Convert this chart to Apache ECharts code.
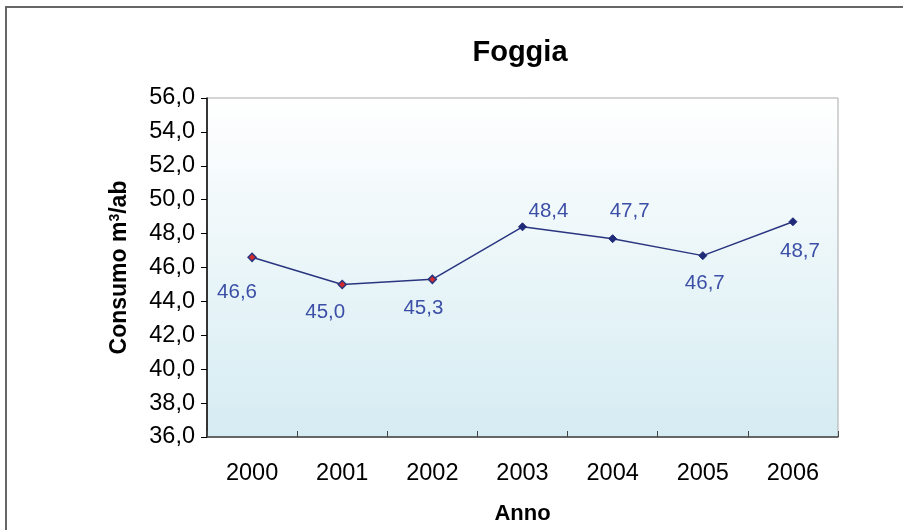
<!DOCTYPE html>
<html>
<head>
<meta charset="utf-8">
<script src="https://cdn.jsdelivr.net/npm/echarts@6/dist/echarts.min.js"></script>
<style>
  html, body { margin: 0; padding: 0; background: #fff; }
  #chart { width: 903px; height: 530px; }
</style>
</head>
<body>
<div id="chart"></div>
<script>
const years = ['2000', '2001', '2002', '2003', '2004', '2005', '2006'];
const consumo = [46.6, 45.0, 45.3, 48.4, 47.7, 46.7, 48.7];
const yTicks = { min: 36, max: 56, step: 2 };

// where each value label sits relative to its point
const labelOffsets = [[-15, 35], [-17, 28], [-9, 29], [26, -15], [17, -27], [2, 28], [7, 30]];
const redPoints = 3; // first points are drawn red

const fmt = (v) => v.toFixed(1).replace('.', ',');
const font = 'Liberation Sans, Arial, sans-serif';

const chart = echarts.init(document.getElementById('chart'));

const option = {
  backgroundColor: '#fff',
  title: {
    text: 'Foggia',
    left: 515,
    top: 33,
    textAlign: 'center',
    textStyle: { fontFamily: font, fontSize: 29, fontWeight: 'bold', color: '#000' }
  },
  graphic: [{
    type: 'rect',
    shape: { x: 6, y: 7, width: 900, height: 530 },
    style: { fill: 'none', stroke: '#666', lineWidth: 2 },
    silent: true
  }],
  grid: {
    left: 207, top: 98, right: 65, bottom: 93,
    outerBoundsMode: 'none',
    containLabel: false,
    show: true,
    borderColor: '#aaa',
    borderWidth: 1,
    backgroundColor: new echarts.graphic.LinearGradient(0, 0, 0, 1, [
      { offset: 0, color: '#ffffff' },
      { offset: 1, color: '#d5ecf2' }
    ])
  },
  xAxis: [{
    type: 'category',
    data: years,
    boundaryGap: true,
    name: 'Anno',
    nameLocation: 'middle',
    nameGap: 66,
    nameTextStyle: { fontFamily: font, fontSize: 22, fontWeight: 'bold', color: '#000' },
    axisLine: { lineStyle: { color: '#444', width: 1.5 } },
    axisTick: { alignWithLabel: true, length: 5, lineStyle: { color: '#444' } },
    axisLabel: { fontFamily: font, fontSize: 23.5, color: '#000', margin: 25 },
    splitLine: { show: false }
  }, {
    type: 'value',
    min: 0, max: years.length, interval: 1,
    position: 'bottom',
    axisLine: { show: false },
    axisTick: { show: true, inside: true, length: 6, lineStyle: { color: '#444' } },
    axisLabel: { show: false },
    splitLine: { show: false }
  }],
  yAxis: {
    type: 'value',
    min: yTicks.min, max: yTicks.max, interval: yTicks.step,
    name: 'Consumo m{sup|3}/ab',
    nameLocation: 'middle',
    nameRotate: 90,
    nameGap: 76,
    nameTextStyle: {
      fontFamily: font, fontSize: 23, fontWeight: 'bold', color: '#000',
      rich: { sup: { fontFamily: font, fontSize: 14, fontWeight: 'bold', color: '#000', verticalAlign: 'top', padding: [0, 0, 8, 0] } }
    },
    axisLine: { show: true, lineStyle: { color: '#000', width: 1.5 } },
    axisTick: { show: true, length: 6, lineStyle: { color: '#000' } },
    axisLabel: { fontFamily: font, fontSize: 23.5, color: '#000', margin: 12, formatter: (v) => fmt(v) },
    splitLine: { show: false }
  },
  series: [{
    type: 'line',
    xAxisIndex: 0,
    data: consumo.map((v, i) => ({
      value: v,
      itemStyle: i < redPoints ? { color: '#d42a2a', borderColor: '#2a3580', borderWidth: 1.5 } : { color: '#1f2a78', borderColor: '#1f2a78', borderWidth: 1 },
      label: { offset: labelOffsets[i] }
    })),
    symbol: 'diamond',
    symbolSize: 8,
    lineStyle: { color: '#2a3580', width: 1.5 },
    label: {
      show: true,
      position: 'inside',
      fontFamily: font,
      fontSize: 20.5,
      color: '#3c4fa6',
      formatter: (p) => fmt(p.value)
    },
    animation: false
  }],
  animation: false
};

chart.setOption(option);
</script>
</body>
</html>
